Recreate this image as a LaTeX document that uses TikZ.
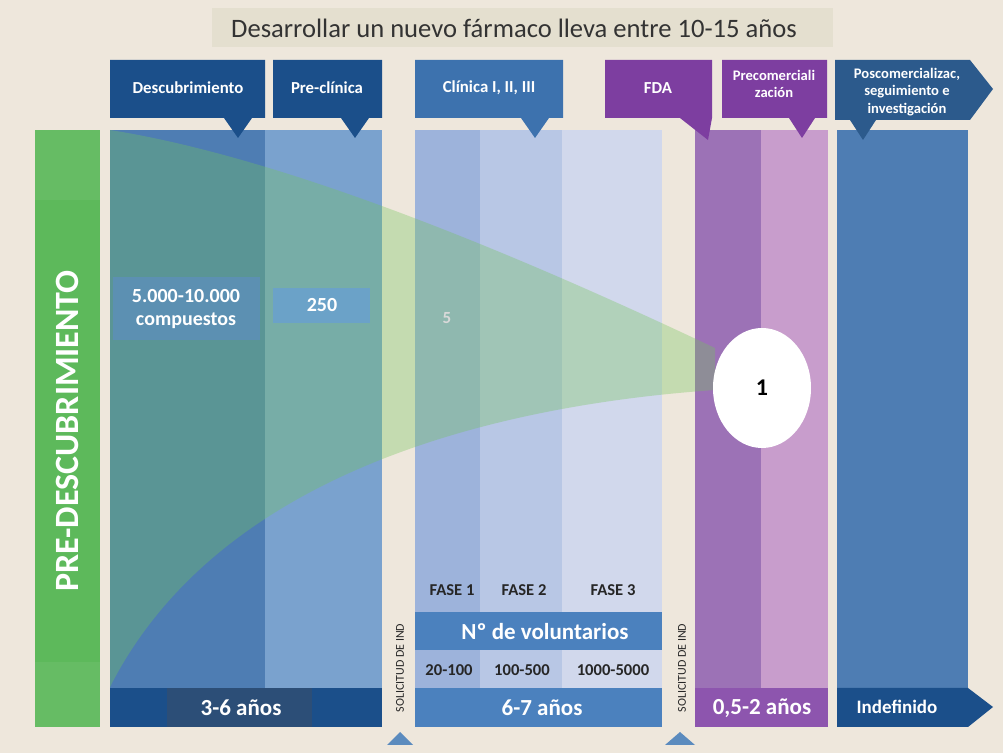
\documentclass[tikz,border=0pt]{standalone}
\usepackage{fontspec}
\setmainfont{Carlito}
\usetikzlibrary{shapes.geometric}
\definecolor{fondo}{HTML}{EEE7DC}
\definecolor{titulo}{HTML}{E4DFCF}
\definecolor{azuloscuro}{HTML}{1B4F8A}
\definecolor{azulinterior}{HTML}{2C4E77}
\definecolor{azulclinica}{HTML}{3D72AE}
\definecolor{azulpos}{HTML}{2C5A8C}
\definecolor{azuldesc}{HTML}{4E7DB3}
\definecolor{azulprec}{HTML}{7AA2CE}
\definecolor{fasea}{HTML}{9DB3DB}
\definecolor{faseb}{HTML}{B8C7E5}
\definecolor{fasec}{HTML}{D1D8EC}
\definecolor{azulbarra}{HTML}{4B81BE}
\definecolor{moradofda}{HTML}{7D3EA0}
\definecolor{moradoa}{HTML}{9C72B6}
\definecolor{moradob}{HTML}{C89DCC}
\definecolor{moradobarra}{HTML}{8D55AE}
\definecolor{verde}{HTML}{5DB95B}
\definecolor{verdeclaro}{HTML}{66BC64}
\definecolor{embudo}{HTML}{74C45C}
\definecolor{cajacomp}{HTML}{5C90B2}
\definecolor{caja250}{HTML}{6BA2C8}
\definecolor{triangulo}{HTML}{5B8BBE}
\begin{document}
\begin{tikzpicture}
    [%%%%%%%%%%%%%%%%%%%%%%%%%%%%%%
        x=0.5pt, y=-0.5pt,
        cabecera/.style={text=white, font=\bfseries\fontsize{8.4}{9.5}\selectfont, align=center},
        cabchica/.style={text=white, font=\bfseries\fontsize{7.3}{8.7}\selectfont, align=center},
        barra/.style={text=white, font=\bfseries\fontsize{11.5}{13}\selectfont},
        cifra/.style={text=white, font=\bfseries\fontsize{10}{11.5}\selectfont, align=center},
        fase/.style={text=black!85, font=\bfseries\fontsize{8.3}{9}\selectfont},
        solicitud/.style={rotate=90, text=black!85, font=\fontsize{6}{7}\selectfont},
    ]%%%%%%%%%%%%%%%%%%%%%%%%%%%%%%
\fill[fondo] (0,0) rectangle (1003,753);
\useasboundingbox (0,0) rectangle (1003,753);
% titulo
\fill[titulo] (212,8) rectangle (833,47);
\node[text=black!80, font=\fontsize{13.3}{15}\selectfont] (titulo) at (514,28) {Desarrollar un nuevo fármaco lleva entre 10-15 años};
% columnas
\fill[verde] (35,130) rectangle (100,727);
\fill[verdeclaro] (35,130) rectangle (100,200);
\fill[verdeclaro] (35,662) rectangle (100,727);
\fill[azuldesc] (110,130) rectangle (265,688);
\fill[azulprec] (265,130) rectangle (382,688);
\fill[fasea] (415,130) rectangle (480,688);
\fill[faseb] (480,130) rectangle (562,688);
\fill[fasec] (562,130) rectangle (662,688);
\fill[moradoa] (695,130) rectangle (761,688);
\fill[moradob] (761,130) rectangle (828,688);
\fill[azuldesc] (837,130) rectangle (968,688);
% embudo
\fill[embudo, opacity=0.34] (110,130) .. controls (300,160) and (550,270) .. (715,348)
    -- (715,390) .. controls (500,405) and (220,470) .. (110,687) -- cycle;
\node[ellipse, fill=white, minimum width=49pt, minimum height=60pt, font=\bfseries\fontsize{12}{14}\selectfont] (uno) at (762,388) {1};
% cabeceras
\fill[azuloscuro] (110,60) -- (265,60) -- (265,118) -- (252,118) -- (238,138) -- (224,118) -- (110,118) -- cycle;
\fill[azuloscuro] (273,60) -- (382,60) -- (382,118) -- (369,118) -- (355,138) -- (341,118) -- (273,118) -- cycle;
\fill[azulclinica] (415,60) -- (563,60) -- (563,118) -- (549,118) -- (535,138) -- (521,118) -- (415,118) -- cycle;
\fill[moradofda] (605,60) -- (712,60) -- (712,118) -- (708,140) -- (680,118) -- (605,118) -- cycle;
\fill[moradofda] (722,60) -- (827,60) -- (827,118) -- (815,118) -- (802,138) -- (789,118) -- (722,118) -- cycle;
\fill[azulpos] (835,60) -- (970,60) -- (993,89) -- (970,120) -- (876,120) -- (863,140) -- (850,120) -- (835,120) -- cycle;
\node[cabecera] (descub) at (188,88) {Descubrimiento};
\node[cabecera] (precli) at (327,88) {Pre-clínica};
\node[cabecera] (clinica) at (489,88) {Clínica I, II, III};
\node[cabecera] (fda) at (658,88) {FDA};
\node[cabchica] (precom) at (774,84) {Precomerciali\\zación};
\node[cabchica] (poscom) at (907,92) {Poscomercializac,\\seguimiento e\\investigación};
% cifras
\fill[cajacomp] (113,277) rectangle (260,340);
\fill[caja250] (273,288) rectangle (370,323);
\node[cifra] (compuestos) at (186,309) {5.000-10.000\\compuestos};
\node[cifra] (doscientos) at (322,305) {250};
\node[text=black!15, font=\bfseries\fontsize{8.5}{9}\selectfont] (cinco) at (447,318) {5};
% fases
\node[fase] (fase1) at (452,590) {FASE 1};
\node[fase] (fase2) at (524,590) {FASE 2};
\node[fase] (fase3) at (613,590) {FASE 3};
\fill[azulbarra] (415,612) rectangle (662,650);
\node[barra] (voluntarios) at (545,632) {Nº de voluntarios};
\node[fase] (vol1) at (449,670) {20-100};
\node[fase] (vol2) at (522,670) {100-500};
\node[fase] (vol3) at (613,670) {1000-5000};
% barras inferiores
\fill[azuloscuro] (110,688) rectangle (382,727);
\fill[azulinterior] (167,688) rectangle (312,727);
\node[barra] (tres) at (241,708) {3-6 años};
\fill[azulbarra] (415,688) rectangle (662,727);
\node[barra] (seis) at (542,708) {6-7 años};
\fill[moradobarra] (695,688) rectangle (828,727);
\node[barra] (medio) at (762,708) {0,5-2 años};
\fill[azuloscuro] (837,688) -- (968,688) -- (993,707) -- (968,727) -- (837,727) -- cycle;
\node[barra, font=\bfseries\fontsize{9.5}{11}\selectfont] (indef) at (897,707) {Indefinido};
% pre-descubrimiento
\node[rotate=90, text=white, font=\bfseries\fontsize{17}{19}\selectfont] (predesc) at (67,431) {PRE-DESCUBRIMIENTO};
% solicitud de IND
\node[solicitud] (ind1) at (400,668) {SOLICITUD DE IND};
\node[solicitud] (ind2) at (682,668) {SOLICITUD DE IND};
\fill[triangulo] (400,732) -- (413,745) -- (387,745) -- cycle;
\fill[triangulo] (680,732) -- (695,745) -- (665,745) -- cycle;
\end{tikzpicture}
\end{document}
